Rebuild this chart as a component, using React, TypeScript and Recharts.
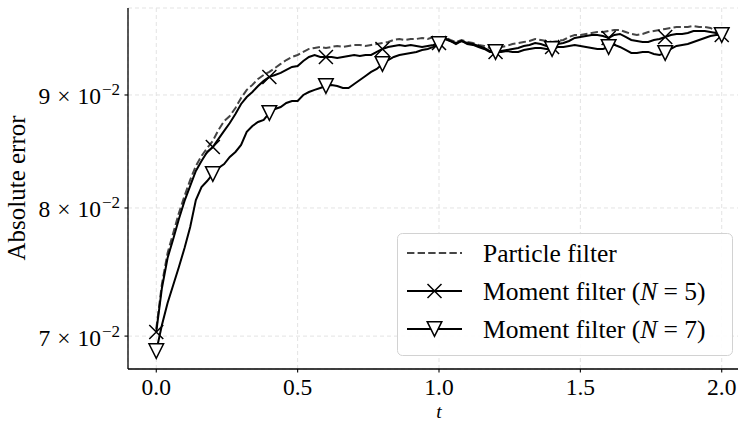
import React from 'react';
import { LineChart, Line, XAxis, YAxis, CartesianGrid, Legend } from 'recharts';

const timeGrid = [
  0, 0.02, 0.04, 0.06, 0.08, 0.1, 0.12, 0.14, 0.16, 0.18,
  0.2, 0.22, 0.24, 0.26, 0.28, 0.3, 0.32, 0.34, 0.36, 0.38,
  0.4, 0.42, 0.44, 0.46, 0.48, 0.5, 0.52, 0.54, 0.56, 0.58,
  0.6, 0.62, 0.64, 0.66, 0.68, 0.7, 0.72, 0.74, 0.76, 0.78,
  0.8, 0.82, 0.84, 0.86, 0.88, 0.9, 0.92, 0.94, 0.96, 0.98,
  1.0, 1.02, 1.04, 1.06, 1.08, 1.1, 1.12, 1.14, 1.16, 1.18,
  1.2, 1.22, 1.24, 1.26, 1.28, 1.3, 1.32, 1.34, 1.36, 1.38,
  1.4, 1.42, 1.44, 1.46, 1.48, 1.5, 1.52, 1.54, 1.56, 1.58,
  1.6, 1.62, 1.64, 1.66, 1.68, 1.7, 1.72, 1.74, 1.76, 1.78,
  1.8, 1.82, 1.84, 1.86, 1.88, 1.9, 1.92, 1.94, 1.96, 1.98,
  2.0,
];

const particleFilter = [
  0.07052, 0.07391, 0.07633, 0.07794, 0.07958, 0.08101, 0.08237, 0.08358, 0.08446, 0.08516,
  0.08579, 0.08678, 0.08759, 0.08805, 0.08879, 0.08972, 0.09048, 0.09095, 0.09152, 0.09190,
  0.09219, 0.09257, 0.09296, 0.09334, 0.09364, 0.09383, 0.09413, 0.09442, 0.09452, 0.09462,
  0.09452, 0.09462, 0.09472, 0.09462, 0.09472, 0.09482, 0.09482, 0.09472, 0.09482, 0.09491,
  0.09501, 0.09511, 0.09531, 0.09541, 0.09531, 0.09541, 0.09541, 0.09551, 0.09541, 0.09561,
  0.09551,
  0.09561, 0.09531, 0.09511, 0.09531, 0.09511, 0.09501, 0.09482, 0.09472, 0.09452, 0.09442,
  0.09462, 0.09472, 0.09491, 0.09501, 0.09511, 0.09521, 0.09541, 0.09531, 0.09521, 0.09511,
  0.09521, 0.09531, 0.09561, 0.09581, 0.09581, 0.09591, 0.09601, 0.09611, 0.09611, 0.09621,
  0.09631, 0.09631, 0.09611, 0.09591, 0.09581, 0.09591, 0.09611, 0.09621, 0.09631, 0.09641,
  0.09651, 0.09661, 0.09661, 0.09661, 0.09671, 0.09661, 0.09661, 0.09651, 0.09621, 0.09591,
];

const momentN5 = [
  0.07030, 0.07360, 0.07594, 0.07746, 0.07909, 0.08059, 0.08186, 0.08315, 0.08402, 0.08481,
  0.08525, 0.08597, 0.08669, 0.08741, 0.08824, 0.08916, 0.08981, 0.09028, 0.09085, 0.09133,
  0.09171, 0.09190, 0.09209, 0.09238, 0.09267, 0.09276, 0.09325, 0.09364, 0.09383, 0.09364,
  0.09364, 0.09364, 0.09354, 0.09364, 0.09373, 0.09383, 0.09373, 0.09383, 0.09383, 0.09413,
  0.09442, 0.09462, 0.09472, 0.09482, 0.09472, 0.09482, 0.09472, 0.09462, 0.09472, 0.09482,
  0.09501,
  0.09551, 0.09521, 0.09501, 0.09521, 0.09501, 0.09491, 0.09472, 0.09452, 0.09422, 0.09413,
  0.09422, 0.09432, 0.09442, 0.09452, 0.09472, 0.09482, 0.09501, 0.09491, 0.09472, 0.09462,
  0.09491, 0.09501, 0.09521, 0.09551, 0.09561, 0.09571, 0.09581, 0.09581, 0.09571, 0.09551,
  0.09581, 0.09591, 0.09561, 0.09531, 0.09521, 0.09511, 0.09511, 0.09531, 0.09541, 0.09561,
  0.09581, 0.09591, 0.09591, 0.09601, 0.09621, 0.09621, 0.09621, 0.09611, 0.09601, 0.09581,
];

const momentN7 = [
  0.06892, 0.07081, 0.07246, 0.07383, 0.07523, 0.07673, 0.07843, 0.08067, 0.08177, 0.08228,
  0.08289, 0.08341, 0.08375, 0.08437, 0.08481, 0.08543, 0.08660, 0.08714, 0.08750, 0.08769,
  0.08833, 0.08870, 0.08888, 0.08925, 0.08944, 0.08944, 0.09000, 0.09028, 0.09048, 0.09066,
  0.09085, 0.09095, 0.09085, 0.09066, 0.09066, 0.09104, 0.09142, 0.09180, 0.09219, 0.09247,
  0.09296, 0.09334, 0.09364, 0.09383, 0.09393, 0.09403, 0.09413, 0.09432, 0.09442, 0.09462,
  0.09491,
  0.09541, 0.09521, 0.09491, 0.09521, 0.09491, 0.09482, 0.09462, 0.09442, 0.09413, 0.09413,
  0.09413, 0.09422, 0.09413, 0.09413, 0.09432, 0.09442, 0.09452, 0.09452, 0.09442, 0.09442,
  0.09462, 0.09462, 0.09472, 0.09482, 0.09472, 0.09462, 0.09452, 0.09442, 0.09442, 0.09462,
  0.09482, 0.09462, 0.09432, 0.09403, 0.09403, 0.09413, 0.09413, 0.09393, 0.09383, 0.09403,
  0.09442, 0.09472, 0.09482, 0.09491, 0.09511, 0.09531, 0.09551, 0.09571, 0.09581, 0.09581,
];

const xTicks = [0, 0.5, 1, 1.5, 2];
const xTickLabels = ['0.0', '0.5', '1.0', '1.5', '2.0'];
const yTicks = [0.07, 0.08, 0.09];
const yTickMantissas = ['7', '8', '9'];
const yTickExponent = '\u22122';
const xDomain = [-0.1, 2.1];
const yDomain = [0.06764, 0.09854];
const seriesLabels = ['Particle filter', 'Moment filter (', 'Moment filter ('];
const markerEvery = 10;

const data = timeGrid.map((t, i) => ({
  t,
  pf: particleFilter[i],
  n5: momentN5[i],
  n7: momentN7[i],
}));

const FONT = '"Liberation Serif", "Times New Roman", serif';
const PF_COLOR = '#454545';
const DASH = '7.4 3.2';

const XTick = (props: any) => {
  const { x, y, payload } = props;
  const idx = xTicks.indexOf(payload.value);
  return (
    <text x={x} y={y + 20} textAnchor="middle" fontFamily={FONT} fontSize={23.5} fill="#000">
      {xTickLabels[idx]}
    </text>
  );
};

const YTick = (props: any) => {
  const { x, y, payload } = props;
  const idx = yTicks.indexOf(payload.value);
  return (
    <text x={x - 2.5} y={y + 9.5} textAnchor="end" fontFamily={FONT} fontSize={23.5} fill="#000">
      <tspan>{yTickMantissas[idx]}</tspan>
      <tspan dx={7}>×</tspan>
      <tspan dx={7}>10</tspan>
      <tspan dx={1} dy={-9} fontSize={17}>{yTickExponent}</tspan>
    </text>
  );
};

const YLabel = () => (
  <text
    x={0}
    y={0}
    transform="translate(25 188) rotate(-90)"
    textAnchor="middle"
    fontFamily={FONT}
    fontSize={25}
    fill="#000"
  >
    Absolute error
  </text>
);

const XLabel = () => (
  <text x={439} y={417.6} textAnchor="middle" fontFamily={FONT} fontSize={19.5} fontStyle="italic" fill="#000">
    t
  </text>
);

const crossPath = (cx: number, cy: number, s: number) =>
  `M${cx - s},${cy - s}L${cx + s},${cy + s}M${cx - s},${cy + s}L${cx + s},${cy - s}`;

const triPath = (cx: number, cy: number, s: number) =>
  `M${cx - s},${cy - s}L${cx + s},${cy - s}L${cx},${cy + s}Z`;

const CrossDot = (props: any) => {
  const { cx, cy, index } = props;
  if (index % markerEvery !== 0 || cx == null || cy == null) return <g key={`c-${index}`} />;
  return (
    <g key={`c-${index}`}>
      <path d={crossPath(cx, cy, 7)} stroke="#000" strokeWidth={1.5} fill="none" />
    </g>
  );
};

const TriDot = (props: any) => {
  const { cx, cy, index } = props;
  if (index % markerEvery !== 0 || cx == null || cy == null) return <g key={`v-${index}`} />;
  return (
    <g key={`v-${index}`}>
      <path d={triPath(cx, cy, 7.3)} stroke="#000" strokeWidth={1.5} fill="#fff" strokeLinejoin="miter" />
    </g>
  );
};

const LegendBox = () => {
  const W = 336;
  const H = 123;
  const hx0 = 10;
  const hx1 = 65;
  const mx = (hx0 + hx1) / 2;
  const tx = 86;
  const rows = [20, 58, 96];
  const fs = 25.5;
  return (
    <svg width={W} height={H} style={{ display: 'block' }}>
      <rect x={0.5} y={0.5} width={W - 1} height={H - 1} rx={5} ry={5} fill="#fff" fillOpacity={0.9} stroke="#d2d2d2" strokeWidth={1} />
      <line x1={hx0} x2={hx1} y1={rows[0]} y2={rows[0]} stroke={PF_COLOR} strokeWidth={2} strokeDasharray={DASH} />
      <text x={tx} y={rows[0] + 8.5} fontFamily={FONT} fontSize={fs} fill="#000">{seriesLabels[0]}</text>
      <line x1={hx0} x2={hx1} y1={rows[1]} y2={rows[1]} stroke="#000" strokeWidth={2} />
      <path d={crossPath(mx, rows[1], 7)} stroke="#000" strokeWidth={1.5} fill="none" />
      <text x={tx} y={rows[1] + 8.5} fontFamily={FONT} fontSize={fs} fill="#000">
        <tspan>{seriesLabels[1]}</tspan>
        <tspan fontStyle="italic">N</tspan>
        <tspan> = 5)</tspan>
      </text>
      <line x1={hx0} x2={hx1} y1={rows[2]} y2={rows[2]} stroke="#000" strokeWidth={2} />
      <path d={triPath(mx, rows[2], 7.3)} stroke="#000" strokeWidth={1.5} fill="#fff" />
      <text x={tx} y={rows[2] + 8.5} fontFamily={FONT} fontSize={fs} fill="#000">
        <tspan>{seriesLabels[2]}</tspan>
        <tspan fontStyle="italic">N</tspan>
        <tspan> = 7)</tspan>
      </text>
    </svg>
  );
};

export default function App() {
  return (
    <div
      style={{
        position: 'absolute',
        left: 0,
        top: 0,
        width: 738,
        height: 422,
        overflow: 'hidden',
        background: '#fff',
      }}
    >
      <LineChart width={752} height={422} data={data} margin={{ top: 8, right: 2, bottom: 0, left: 0 }}>
        <CartesianGrid stroke="#e3e3e3" strokeDasharray="4 3" strokeWidth={1} />
        <XAxis
          dataKey="t"
          type="number"
          domain={xDomain}
          ticks={xTicks}
          allowDataOverflow
          height={53}
          tickSize={3.5}
          tick={<XTick />}
          axisLine={{ stroke: '#000', strokeWidth: 1.3 }}
          tickLine={{ stroke: '#000', strokeWidth: 1.1 }}
          label={<XLabel />}
        />
        <XAxis
          xAxisId="top"
          dataKey="t"
          type="number"
          orientation="top"
          domain={xDomain}
          allowDataOverflow
          height={0}
          tick={false}
          tickLine={false}
          axisLine={{ stroke: '#000', strokeWidth: 1.3 }}
        />
        <YAxis
          type="number"
          scale="log"
          domain={yDomain}
          ticks={yTicks}
          allowDataOverflow
          width={128}
          tickSize={3.5}
          tick={<YTick />}
          axisLine={{ stroke: '#000', strokeWidth: 1.3 }}
          tickLine={{ stroke: '#000', strokeWidth: 1.1 }}
          label={<YLabel />}
        />
        <Legend
          layout="vertical"
          align="center"
          verticalAlign="middle"
          content={<LegendBox />}
          wrapperStyle={{ left: 397, top: 233, width: 336, height: 123, right: 'auto', bottom: 'auto' }}
        />
        <Line
          type="linear"
          dataKey="pf"
          name="Particle filter"
          stroke={PF_COLOR}
          strokeWidth={2}
          strokeDasharray={DASH}
          dot={false}
          activeDot={false}
          isAnimationActive={false}
        />
        <Line
          type="linear"
          dataKey="n5"
          name="Moment filter (N = 5)"
          stroke="#000"
          strokeWidth={2}
          dot={<CrossDot />}
          activeDot={false}
          isAnimationActive={false}
        />
        <Line
          type="linear"
          dataKey="n7"
          name="Moment filter (N = 7)"
          stroke="#000"
          strokeWidth={2}
          dot={<TriDot />}
          activeDot={false}
          isAnimationActive={false}
        />
      </LineChart>
    </div>
  );
}
